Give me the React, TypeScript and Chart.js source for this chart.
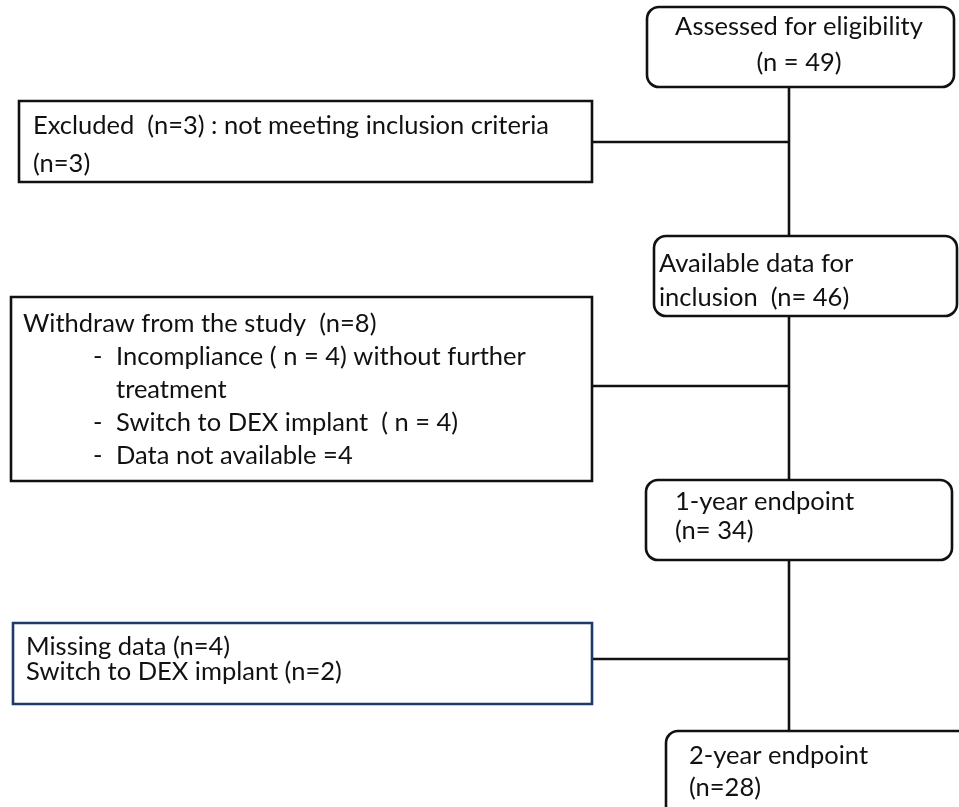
import React, { useEffect, useRef } from "react";
import { Chart, registerables } from "chart.js";

Chart.register(...registerables);

// ---- content ----
const assessedLines = ["Assessed for eligibility", "(n = 49)"];
const availableLines = ["Available data for", "inclusion  (n= 46)"];
const oneYearLines = ["1-year endpoint", "(n= 34)"];
const twoYearLines = ["2-year endpoint", "(n=28)"];
const excludedLines = ["Excluded  (n=3) : not meeting inclusion criteria", "(n=3)"];
const withdrawTitle = "Withdraw from the study  (n=8)";
const withdrawItems = ["Incompliance ( n = 4) without further", "treatment", "Switch to DEX implant  ( n = 4)", "Data not available =4"];
const withdrawDash = [true, false, true, true];
const missingLines = ["Missing data (n=4)", "Switch to DEX implant (n=2)"];

// ---- layout (scale units == pixels) ----
const W = 959;
const H = 807;
const SPINE_X = 789;
const FONT = "25.5px Lato";
const INK = "#111111";

type Box = {
  x0: number; x1: number; y0: number; y1: number;
  r: number; color: string;
  lines: string[]; lineYs: number[]; textX: number[]; align: CanvasTextAlign;
};

const boxes: Box[] = [
  { x0: 647, x1: 954, y0: 7, y1: 87, r: 12, color: INK, lines: assessedLines, lineYs: [27, 63], textX: [799, 799], align: "center" },
  { x0: 654, x1: 957, y0: 236, y1: 316, r: 12, color: INK, lines: availableLines, lineYs: [264, 298], textX: [659, 659], align: "left" },
  { x0: 646, x1: 952, y0: 480, y1: 560, r: 12, color: INK, lines: oneYearLines, lineYs: [502, 531], textX: [675, 675], align: "left" },
  { x0: 666, x1: 990, y0: 731, y1: 840, r: 12, color: INK, lines: twoYearLines, lineYs: [756, 788], textX: [689, 689], align: "left" },
  { x0: 19, x1: 592, y0: 101, y1: 182, r: 0, color: INK, lines: excludedLines, lineYs: [126, 164], textX: [33, 33], align: "left" },
  { x0: 11, x1: 592, y0: 297, y1: 481, r: 0, color: INK,
    lines: [withdrawTitle, ...withdrawItems], lineYs: [324, 357, 390, 423, 456], textX: [23, 116, 116, 116, 116], align: "left" },
  { x0: 13, x1: 592, y0: 623, y1: 704, r: 0, color: "#1F3A68", lines: missingLines, lineYs: [647, 672], textX: [26, 26], align: "left" },
];
const dashX = 93;

// connectors: [x0, y0, x1, y1]
const connectors: number[][] = [
  [SPINE_X, 87, SPINE_X, 236],
  [SPINE_X, 316, SPINE_X, 480],
  [SPINE_X, 560, SPINE_X, 731],
  [592, 142, SPINE_X, 142],
  [592, 386, SPINE_X, 386],
  [592, 659, SPINE_X, 659],
];

const boxPlugin = {
  id: "flowBoxes",
  afterDatasetsDraw(chart: any) {
    const { ctx, scales } = chart;
    const sx = (v: number) => scales.x.getPixelForValue(v);
    const sy = (v: number) => scales.y.getPixelForValue(v);
    ctx.save();
    boxes.forEach((b) => {
      const x0 = sx(b.x0), x1 = sx(b.x1), y0 = sy(b.y0), y1 = sy(b.y1);
      ctx.beginPath();
      if (b.r > 0) {
        (ctx as any).roundRect(x0, y0, x1 - x0, y1 - y0, b.r);
      } else {
        ctx.rect(x0, y0, x1 - x0, y1 - y0);
      }
      ctx.lineWidth = 2.6;
      ctx.strokeStyle = b.color;
      ctx.stroke();
      ctx.fillStyle = INK;
      ctx.font = FONT;
      ctx.textBaseline = "middle";
      ctx.textAlign = b.align;
      b.lines.forEach((t, i) => {
        ctx.fillText(t, sx(b.textX[i]), sy(b.lineYs[i]));
      });
    });
    // dashes for the withdraw list
    const wb = boxes[5];
    ctx.textAlign = "left";
    withdrawDash.forEach((d, i) => {
      if (d) ctx.fillText("-", sx(dashX), sy(wb.lineYs[i + 1]));
    });
    ctx.restore();
  },
};

export default function App() {
  const ref = useRef<HTMLCanvasElement | null>(null);
  useEffect(() => {
    if (!ref.current) return;
    const datasets = connectors.map((c) => ({
      type: "line" as const,
      data: [{ x: c[0], y: c[1] }, { x: c[2], y: c[3] }],
      borderColor: INK,
      borderWidth: 2.6,
      pointRadius: 0,
      showLine: true,
      fill: false,
    }));
    const chart = new Chart(ref.current, {
      type: "scatter",
      data: { datasets },
      options: {
        animation: false,
        responsive: false,
        maintainAspectRatio: false,
        layout: { padding: 0 },
        plugins: { legend: { display: false }, tooltip: { enabled: false } },
        scales: {
          x: { type: "linear", min: 0, max: W, display: false },
          y: { type: "linear", min: 0, max: H, reverse: true, display: false },
        },
      },
      plugins: [boxPlugin],
    });
    return () => chart.destroy();
  }, []);
  return (
    <div style={{ position: "fixed", left: 0, top: 0, width: W, height: H, background: "#fff" }}>
      <canvas ref={ref} width={W} height={H} style={{ width: W, height: H, display: "block" }} />
    </div>
  );
}
